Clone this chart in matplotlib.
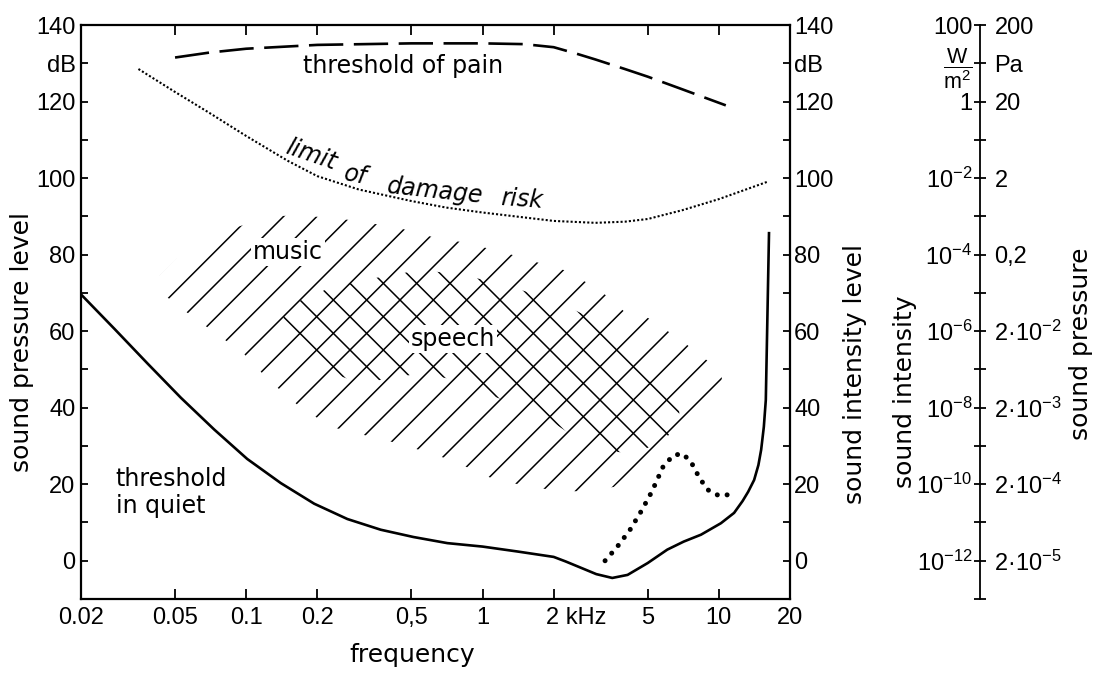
import matplotlib
matplotlib.use('Agg')
import matplotlib.pyplot as plt
from matplotlib.ticker import FixedLocator, FixedFormatter, NullLocator
from matplotlib.transforms import ScaledTranslation

# ---------------- data ----------------
freq_ticks = [0.02, 0.05, 0.1, 0.2, 0.5, 1, 2, 5, 10, 20]
freq_labels = ['0.02', '0.05', '0.1', '0.2', '0,5', '1', '2 kHz', '5', '10', '20']
db_ticks = list(range(0, 141, 10))
db_label_map = {0: '0', 20: '20', 40: '40', 60: '60', 80: '80', 100: '100',
                120: '120', 130: 'dB', 140: '140'}
far_ticks = list(range(-10, 141, 10))
intensity_map = {140: '100', 130: r'$\dfrac{W}{m^2}$', 120: '1', 100: r'$10^{-2}$',
                 80: r'$10^{-4}$', 60: r'$10^{-6}$', 40: r'$10^{-8}$',
                 20: r'$10^{-10}$', 0: r'$10^{-12}$'}
pressure_map = {140: '200', 130: 'Pa', 120: '20', 100: '2', 80: '0,2',
                60: r'$2·10^{-2}$', 40: r'$2·10^{-3}$', 20: r'$2·10^{-4}$',
                0: r'$2·10^{-5}$'}

quiet_f = [0.02, 0.0277, 0.0383, 0.0529, 0.0732, 0.101, 0.140, 0.194,
           0.268, 0.371, 0.51, 0.71, 1.0, 1.41, 2.0, 2.25, 2.53, 3.03, 3.54, 4.11, 5.0,
           6.05, 7.1, 8.4, 10.2, 11.6, 12.6, 13.3, 14.1, 14.7, 15.1, 15.5, 15.8,
           16.0, 16.3]
quiet_db = [69.6, 60.6, 51.5, 42.6, 34.3, 26.6, 20.3, 14.9,
            10.9, 8.1, 6.2, 4.6, 3.7, 2.4, 1.0, -0.2, -1.5, -3.5, -4.5, -3.7, -0.6,
            2.9, 5.0, 6.8, 9.8, 12.5, 15.6, 18.0, 21.1, 25.0, 29, 35, 42,
            59.5, 85.6]

dots_f = [3.3, 3.7, 4.2, 4.7, 5.2, 5.8, 6.4, 7.0, 7.6, 8.3, 9.0, 10, 11.2]
dots_db = [0, 3.5, 8, 13, 18, 24.5, 27.5, 28, 26, 21.5, 18.5, 17, 17.3]

pain_f = [0.05, 0.07, 0.1, 0.2, 0.5, 1, 1.5, 2, 2.5, 3, 4, 5, 7, 10.7]
pain_db = [131.5, 132.8, 133.8, 134.8, 135.2, 135.2, 135, 134.2, 132.5, 131,
           128.5, 126.5, 123.2, 119]

damage_f = [0.035, 0.05, 0.07, 0.1, 0.15, 0.2, 0.3, 0.5, 0.7, 1, 2, 3, 4, 5, 7,
            10, 13, 16]
damage_db = [128.5, 122.5, 117, 111, 104.5, 100.5, 97, 94, 92.3, 91, 88.8, 88.3,
             88.6, 89.3, 91.6, 94.5, 97, 99]

music_f = [0.043, 0.051, 0.089, 0.13, 0.17, 0.28, 0.44, 0.64, 0.81, 1.22, 1.49,
           2.2, 3.1, 4.0, 5.0, 6.9, 9.2, 10.3, 10.0, 9.0,
           6.6, 4.8, 3.6, 2.67, 1.65, 1.08, 0.73, 0.45, 0.228, 0.165, 0.124,
           0.097, 0.071, 0.053, 0.046]
music_db = [74.5, 79, 87, 90, 90.3, 89, 87, 84.3, 83.3, 80.7, 79,
            76, 71, 65, 63.5, 57.7, 51.7, 47.8, 40, 36,
            33.4, 26.4, 19.3, 18, 19, 21.7, 26.4, 30.5, 35, 40.7, 47.3,
            54.3, 60.3, 66, 69]

speech_f = [0.13, 0.155, 0.23, 0.36, 0.55, 0.75, 1.0, 1.5, 2.0, 3.0, 4.2, 5.5, 6.8,
            6.8, 6.0, 5.0, 4.2, 3.2, 2.3, 1.65, 1.1, 0.8, 0.55, 0.35, 0.27, 0.17]
speech_db = [59, 67, 71.5, 74, 76, 75, 73.5, 70.5, 68, 63, 56, 50, 44,
             37, 32, 29.5, 28, 29, 33.5, 39.5, 43, 47, 49, 47, 47.5, 52]

# ---------------- style ----------------
TEXT_FONT = ['DejaVu Sans']
NUM_FONT = ['Liberation Sans', 'DejaVu Sans']
plt.rcParams['font.family'] = TEXT_FONT
plt.rcParams['mathtext.default'] = 'regular'
plt.rcParams['hatch.linewidth'] = 1.1
plt.rcParams['hatch.color'] = 'black'

W, H = 1095, 673
fig = plt.figure(figsize=(W / 100, H / 100), dpi=100)
L, R, T, B = 81, 790, 25, 599
ax = fig.add_axes([L / W, 1 - B / H, (R - L) / W, (B - T) / H])
ax.set_xscale('log')
ax.set_xlim(0.02, 20)
ax.set_ylim(-10, 140)

# regions
ax.fill(music_f, music_db, facecolor='none', edgecolor='black', linewidth=0, hatch='/')
ax.fill(speech_f, speech_db, facecolor='none', edgecolor='black', linewidth=0, hatch='\\')

# curves
ax.plot(quiet_f, quiet_db, color='black', lw=1.9, solid_joinstyle='round')
ax.plot(dots_f, dots_db, color='black', lw=3.6, linestyle=(0, (0.01, 2.0)),
        dash_capstyle='round')
ax.plot(pain_f, pain_db, color='black', lw=1.9, linestyle=(0, (13, 4)))
ax.plot(damage_f, damage_db, color='black', lw=1.5, linestyle=(0, (1, 1.0)))

# texts
ax.text(0.46, 129.4, 'threshold of pain', ha='center', va='center', fontsize=17)
ax.text(0.028, 17.8, 'threshold\nin quiet', ha='left', va='center', fontsize=17,
        linespacing=1.15)
wbox = dict(facecolor='white', edgecolor='none', pad=1.5)
ax.text(0.150, 80.7, 'music', ha='center', va='center', fontsize=17, bbox=wbox, zorder=5)
ax.text(0.75, 58.0, 'speech', ha='center', va='center', fontsize=17, bbox=wbox, zorder=5)
for word, fx, dy, rot in [('limit', 0.188, 106, -19), ('of', 0.29, 100.7, -11),
                          ('damage', 0.63, 96.6, -6), ('risk', 1.46, 94.4, -4)]:
    ax.text(fx, dy, word, ha='center', va='center', fontsize=17, style='italic',
            rotation=rot, rotation_mode='anchor')

# axes formatting
for sp in ax.spines.values():
    sp.set_linewidth(1.6)
ax.xaxis.set_major_locator(FixedLocator(freq_ticks))
ax.xaxis.set_major_formatter(FixedFormatter(freq_labels))
ax.xaxis.set_minor_locator(NullLocator())
ax.yaxis.set_major_locator(FixedLocator(db_ticks))
ax.yaxis.set_major_formatter(FixedFormatter([db_label_map.get(v, '') for v in db_ticks]))
ax.yaxis.set_minor_locator(NullLocator())
ax.tick_params(axis='both', which='both', direction='in', top=True, width=1.3,
               labelsize=17, labelfontfamily=NUM_FONT)
ax.tick_params(axis='x', length=7, pad=6)
ax.tick_params(axis='y', length=5, pad=4)
ax.set_xlabel('frequency', fontsize=18)
ax.xaxis.set_label_coords(0.467, -0.098)
ax.xaxis.label.set_verticalalignment('center')
ax.set_ylabel('sound pressure level', fontsize=18)
ax.yaxis.set_label_coords(-0.083, 0.448)
ax.yaxis.label.set_verticalalignment('center')

# right twin axis
ax2 = ax.twinx()
ax2.set_ylim(-10, 140)
for sp in ax2.spines.values():
    sp.set_visible(False)
ax2.yaxis.set_major_locator(FixedLocator(db_ticks))
ax2.yaxis.set_major_formatter(FixedFormatter([db_label_map.get(v, '') for v in db_ticks]))
ax2.tick_params(axis='y', direction='in', length=5, width=1.3, pad=3, labelsize=17,
                labelfontfamily=NUM_FONT)
ax2.set_ylabel('sound intensity level', fontsize=18)
ax2.yaxis.set_label_coords((855 - L) / (R - L), (B - 374) / (B - T))
ax2.yaxis.label.set_verticalalignment('center')

# "2 kHz" label: keep the "2" centred on its tick
kticks = ax.xaxis.get_major_ticks()
lab = kticks[6].label1
lab.set_horizontalalignment('left')
lab.set_transform(lab.get_transform() + ScaledTranslation(-5.5 / 72, 0, fig.dpi_scale_trans))

# far-right intensity / pressure scale
XF = 980
ax3 = fig.add_axes([XF / W, 1 - B / H, 0.0005, (B - T) / H])
ax3.set_ylim(-10, 140)
ax3.patch.set_alpha(0)
for k in ('top', 'bottom', 'right'):
    ax3.spines[k].set_visible(False)
ax3.spines['left'].set_linewidth(1.3)
ax3.set_xticks([])
ax3.yaxis.set_major_locator(FixedLocator(far_ticks))
ax3.yaxis.set_major_formatter(FixedFormatter([intensity_map.get(v, '') for v in far_ticks]))
ax3.tick_params(axis='y', direction='inout', length=9, width=1.3, pad=1,
                labelsize=17, labelfontfamily=NUM_FONT)
ax3.set_ylabel('sound intensity', fontsize=18)
ax3.yaxis.set_label_coords(905 / W, 1 - 392 / H, transform=fig.transFigure)
ax3.yaxis.label.set_verticalalignment('center')
# the W/m^2 unit label: slightly smaller and nudged up so it clears the "1"
flab = ax3.yaxis.get_major_ticks()[far_ticks.index(130)].label1
flab.set_fontsize(15.5)
flab.set_transform(flab.get_transform() + ScaledTranslation(0, 2.5 / 72, fig.dpi_scale_trans))

ax4 = ax3.twinx()
ax4.set_ylim(-10, 140)
for sp in ax4.spines.values():
    sp.set_visible(False)
ax4.yaxis.set_major_locator(FixedLocator(far_ticks))
ax4.yaxis.set_major_formatter(FixedFormatter([pressure_map.get(v, '') for v in far_ticks]))
ax4.tick_params(axis='y', length=0, pad=10, labelsize=17, labelfontfamily=NUM_FONT)
ax4.set_ylabel('sound pressure', fontsize=18)
ax4.yaxis.set_label_coords(1081 / W, 1 - 344 / H, transform=fig.transFigure)
ax4.yaxis.label.set_verticalalignment('center')

fig.savefig('out.png', dpi=100)
